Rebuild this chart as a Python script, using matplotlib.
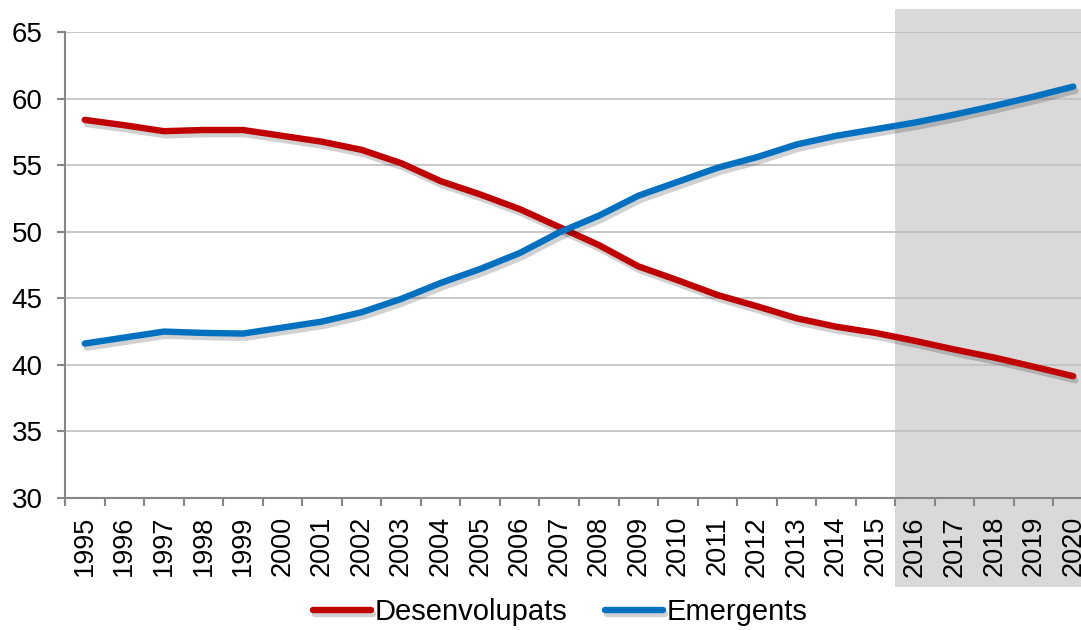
import matplotlib
matplotlib.use("Agg")
import matplotlib.pyplot as plt
import matplotlib.patheffects as pe
from matplotlib.patches import Rectangle
from matplotlib.transforms import blended_transform_factory
import numpy as np

plt.rcParams['font.family'] = ['Liberation Sans', 'DejaVu Sans']

# ===== Data =====
years = [str(y) for y in range(1995, 2021)]
desenvolupats = [58.4, 58.0, 57.55, 57.64, 57.64, 57.2, 56.76, 56.15, 55.15, 53.8,
                 52.8, 51.7, 50.35, 49.0, 47.4, 46.35, 45.25, 44.4, 43.5, 42.87,
                 42.4, 41.8, 41.15, 40.55, 39.86, 39.15]
emergents = [41.6, 42.05, 42.5, 42.4, 42.35, 42.8, 43.25, 43.95, 44.95, 46.15,
             47.2, 48.4, 49.95, 51.2, 52.7, 53.75, 54.8, 55.6, 56.55, 57.2,
             57.7, 58.2, 58.8, 59.45, 60.15, 60.9]
forecast_from = "2016"

W, H = 1081, 630
fig = plt.figure(figsize=(W / 100, H / 100), dpi=100)
# plot area runs past the right edge of the picture, like the reference crop
left, right, top, bottom = 65, 1093, 32, 498
ax = fig.add_axes([left / W, 1 - bottom / H, (right - left) / W, (bottom - top) / H])
ax.set_facecolor('none')

x = np.arange(len(years))
shadow = [pe.SimpleLineShadow(offset=(1.5, -3), shadow_color='black', alpha=0.18),
          pe.Normal()]
ax.plot(x, desenvolupats, color='#C00000', lw=4.6, solid_capstyle='round',
        solid_joinstyle='round', path_effects=shadow, label='Desenvolupats', zorder=3)
ax.plot(x, emergents, color='#0070C0', lw=4.6, solid_capstyle='round',
        solid_joinstyle='round', path_effects=shadow, label='Emergents', zorder=3)

ax.set_xlim(-0.5, len(years) - 0.5)
ax.set_ylim(30, 65)
ax.set_yticks(range(30, 66, 5))
ax.grid(axis='y', color='#BFBFBF', lw=1.2)
ax.set_axisbelow(True)

ax.set_xticks(x)
ax.set_xticklabels(years, rotation=90, fontsize=19.5)
ax.set_xticks(np.arange(-0.5, len(years), 1), minor=True)
ax.tick_params(axis='x', which='major', length=0, pad=13)
ax.tick_params(axis='x', which='minor', length=6, width=1.5, color='#868686')
ax.tick_params(axis='y', length=6, width=1.5, color='#868686', labelsize=20, pad=10)

for s in ['top', 'right']:
    ax.spines[s].set_visible(False)
for s in ['left', 'bottom']:
    ax.spines[s].set_color('#868686')
    ax.spines[s].set_linewidth(1.5)

# forecast shading, reaching down behind the year labels
i0 = years.index(forecast_from) - 0.5
trans = blended_transform_factory(ax.transData, fig.transFigure)
rect = Rectangle((i0, 1 - 587 / H), len(years) - 0.5 - i0 + 1, (587 - 9) / H,
                 transform=trans, facecolor='#D9D9D9', edgecolor='none', zorder=-1)
fig.add_artist(rect)

fig.legend(loc='center', bbox_to_anchor=(560 / W, 1 - 612 / H), ncol=2,
           frameon=False, fontsize=21, handlelength=2.0, handletextpad=0.1,
           columnspacing=1.3, borderaxespad=0)

fig.savefig("out.png", dpi=100)
